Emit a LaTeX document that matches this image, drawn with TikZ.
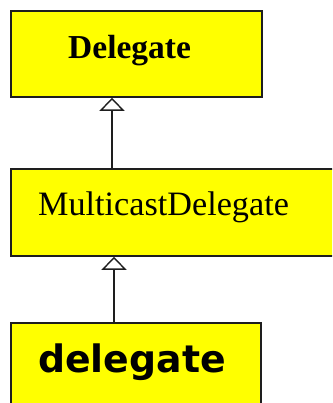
\documentclass[tikz,border=0pt]{standalone}
\usepackage{fontspec}
\setmainfont{Liberation Serif}
\newfontfamily\boldsans{DejaVu Sans}
\usepackage{tikz}
\usetikzlibrary{arrows.meta,positioning,calc}
\definecolor{BoxYellow}{RGB}{255,255,0}
\definecolor{EdgeGray}{RGB}{30,30,30}

\begin{document}
\begin{tikzpicture}[x=1pt,y=-1pt,
  classbox/.style={draw=EdgeGray,line width=1.8pt,fill=BoxYellow,anchor=north west,inner sep=0pt},
  inherit/.style={draw=EdgeGray,line width=1.6pt,-{Triangle[open,width=25pt,length=13pt,line width=1.4pt]}}]
  \useasboundingbox (0,0) rectangle (332,403);
  \clip (0,0) rectangle (332,403);
  \node[classbox,minimum width=251pt,minimum height=86pt] (dlg) at (10,10) {};
  \node[classbox,minimum width=340pt,minimum height=87pt] (mcd) at (10,168) {};
  \node[classbox,minimum width=250pt,minimum height=100pt] (del) at (10,322) {};
  \node[anchor=base west,inner sep=0pt] (dlgtxt) at (68,59) {\fontsize{33.5}{33}\selectfont\bfseries Delegate};
  \node[anchor=base west,inner sep=0pt] (mcdtxt) at (38,215) {\fontsize{34.2}{33}\selectfont MulticastDelegate};
  \node[anchor=base west,inner sep=0pt] (deltxt) at (38,372) {\fontsize{37.8}{37}\selectfont\boldsans\bfseries delegate};
  \draw[inherit] ($(mcd.north west)+(102,0)$) -- ($(dlg.south west)+(102,0)$);
  \draw[inherit] ($(del.north west)+(104,0)$) -- ($(mcd.south west)+(104,0)$);
\end{tikzpicture}
\end{document}
